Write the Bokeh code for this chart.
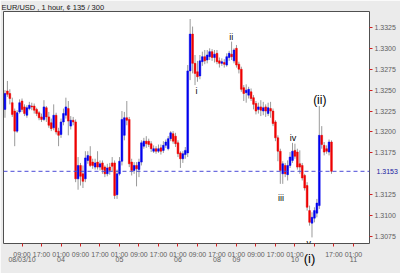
from bokeh.plotting import figure
from bokeh.models import ColumnDataSource, LinearAxis, FixedTicker, Span, Label, Range1d
from bokeh.embed import file_html
from bokeh.resources import INLINE

# EUR/USD hourly candles (135 bars)
opens = [
    1.3227, 1.3249, 1.3246, 1.3235, 1.3225, 1.3201, 1.3224, 1.3237, 1.3230, 1.3220,
    1.3228, 1.3231, 1.3231, 1.3227, 1.3223, 1.3218, 1.3215, 1.3229, 1.3218, 1.3211,
    1.3205, 1.3220, 1.3201, 1.3197, 1.3212, 1.3220, 1.3228, 1.3207, 1.3214, 1.3212,
    1.3144, 1.3160, 1.3150, 1.3144, 1.3166, 1.3171, 1.3164, 1.3158, 1.3164, 1.3158,
    1.3163, 1.3158, 1.3150, 1.3158, 1.3163, 1.3163, 1.3125, 1.3150, 1.3165, 1.3196,
    1.3217, 1.3215, 1.3164, 1.3154, 1.3160, 1.3155, 1.3164, 1.3183, 1.3189, 1.3189,
    1.3186, 1.3177, 1.3180, 1.3177, 1.3181, 1.3178, 1.3184, 1.3180, 1.3192, 1.3198,
    1.3195, 1.3187, 1.3175, 1.3168, 1.3173, 1.3175, 1.3273, 1.3317, 1.3282, 1.3272,
    1.3267, 1.3284, 1.3290, 1.3286, 1.3290, 1.3296, 1.3289, 1.3294, 1.3285, 1.3282,
    1.3283, 1.3280, 1.3289, 1.3293, 1.3285, 1.3300, 1.3281, 1.3275, 1.3253, 1.3247,
    1.3244, 1.3248, 1.3241, 1.3234, 1.3227, 1.3230, 1.3225, 1.3230, 1.3222, 1.3228,
    1.3225, 1.3212, 1.3193, 1.3177, 1.3150, 1.3160, 1.3149, 1.3160, 1.3166, 1.3178,
    1.3176, 1.3162, 1.3160, 1.3148, 1.3136, 1.3106, 1.3091, 1.3097, 1.3103, 1.3112,
    1.3196, 1.3184, 1.3180, 1.3176, 1.3188,
]
highs = [
    1.3250, 1.3261, 1.3251, 1.3241, 1.3228, 1.3226, 1.3239, 1.3240, 1.3233, 1.3232,
    1.3236, 1.3235, 1.3234, 1.3229, 1.3225, 1.3222, 1.3238, 1.3231, 1.3224, 1.3216,
    1.3233, 1.3223, 1.3205, 1.3216, 1.3228, 1.3241, 1.3237, 1.3219, 1.3218, 1.3215,
    1.3170, 1.3163, 1.3160, 1.3177, 1.3177, 1.3183, 1.3168, 1.3168, 1.3177, 1.3166,
    1.3166, 1.3160, 1.3162, 1.3163, 1.3170, 1.3166, 1.3155, 1.3170, 1.3225, 1.3224,
    1.3237, 1.3218, 1.3168, 1.3164, 1.3164, 1.3168, 1.3190, 1.3193, 1.3195, 1.3192,
    1.3189, 1.3184, 1.3183, 1.3185, 1.3185, 1.3189, 1.3191, 1.3195, 1.3201, 1.3201,
    1.3199, 1.3190, 1.3177, 1.3177, 1.3182, 1.3280, 1.3335, 1.3326, 1.3292, 1.3285,
    1.3292, 1.3296, 1.3298, 1.3298, 1.3300, 1.3299, 1.3298, 1.3298, 1.3289, 1.3288,
    1.3287, 1.3294, 1.3297, 1.3308, 1.3300, 1.3304, 1.3284, 1.3278, 1.3256, 1.3257,
    1.3254, 1.3252, 1.3244, 1.3237, 1.3235, 1.3238, 1.3236, 1.3233, 1.3235, 1.3236,
    1.3228, 1.3214, 1.3196, 1.3180, 1.3165, 1.3163, 1.3166, 1.3176, 1.3187, 1.3186,
    1.3180, 1.3178, 1.3163, 1.3150, 1.3140, 1.3112, 1.3104, 1.3110, 1.3120, 1.3231,
    1.3207, 1.3188, 1.3184, 1.3191, 1.3190,
]
lows = [
    1.3217, 1.3242, 1.3233, 1.3218, 1.3183, 1.3199, 1.3222, 1.3224, 1.3219, 1.3217,
    1.3226, 1.3226, 1.3222, 1.3219, 1.3214, 1.3212, 1.3213, 1.3212, 1.3205, 1.3201,
    1.3202, 1.3197, 1.3183, 1.3193, 1.3208, 1.3216, 1.3196, 1.3203, 1.3208, 1.3140,
    1.3131, 1.3136, 1.3133, 1.3140, 1.3162, 1.3158, 1.3156, 1.3155, 1.3155, 1.3154,
    1.3150, 1.3146, 1.3147, 1.3149, 1.3152, 1.3120, 1.3120, 1.3148, 1.3160, 1.3190,
    1.3208, 1.3158, 1.3148, 1.3150, 1.3135, 1.3146, 1.3160, 1.3180, 1.3181, 1.3182,
    1.3176, 1.3175, 1.3174, 1.3175, 1.3173, 1.3175, 1.3181, 1.3178, 1.3189, 1.3186,
    1.3182, 1.3170, 1.3157, 1.3163, 1.3168, 1.3170, 1.3262, 1.3270, 1.3256, 1.3260,
    1.3263, 1.3279, 1.3281, 1.3282, 1.3286, 1.3285, 1.3283, 1.3281, 1.3277, 1.3279,
    1.3277, 1.3278, 1.3285, 1.3286, 1.3282, 1.3277, 1.3270, 1.3248, 1.3237, 1.3235,
    1.3240, 1.3237, 1.3227, 1.3221, 1.3222, 1.3219, 1.3220, 1.3218, 1.3219, 1.3217,
    1.3207, 1.3189, 1.3165, 1.3138, 1.3138, 1.3146, 1.3142, 1.3157, 1.3163, 1.3168,
    1.3155, 1.3150, 1.3142, 1.3130, 1.3106, 1.3088, 1.3074, 1.3092, 1.3098, 1.3108,
    1.3180, 1.3172, 1.3174, 1.3172, 1.3150,
]
closes = [
    1.3246, 1.3245, 1.3240, 1.3221, 1.3201, 1.3223, 1.3235, 1.3227, 1.3222, 1.3229,
    1.3232, 1.3230, 1.3226, 1.3222, 1.3217, 1.3215, 1.3230, 1.3218, 1.3208, 1.3204,
    1.3220, 1.3200, 1.3196, 1.3212, 1.3222, 1.3230, 1.3213, 1.3214, 1.3212, 1.3144,
    1.3160, 1.3147, 1.3141, 1.3169, 1.3172, 1.3160, 1.3160, 1.3163, 1.3158, 1.3162,
    1.3155, 1.3150, 1.3157, 1.3154, 1.3159, 1.3124, 1.3150, 1.3165, 1.3215, 1.3217,
    1.3214, 1.3162, 1.3154, 1.3160, 1.3156, 1.3164, 1.3187, 1.3189, 1.3186, 1.3185,
    1.3180, 1.3180, 1.3177, 1.3180, 1.3177, 1.3184, 1.3188, 1.3192, 1.3199, 1.3189,
    1.3186, 1.3174, 1.3168, 1.3174, 1.3178, 1.3273, 1.3317, 1.3282, 1.3270, 1.3266,
    1.3285, 1.3290, 1.3285, 1.3292, 1.3296, 1.3289, 1.3293, 1.3284, 1.3282, 1.3284,
    1.3281, 1.3290, 1.3294, 1.3290, 1.3298, 1.3280, 1.3275, 1.3251, 1.3246, 1.3250,
    1.3251, 1.3240, 1.3233, 1.3225, 1.3230, 1.3226, 1.3229, 1.3225, 1.3229, 1.3225,
    1.3210, 1.3193, 1.3177, 1.3154, 1.3162, 1.3150, 1.3160, 1.3170, 1.3177, 1.3171,
    1.3158, 1.3158, 1.3145, 1.3133, 1.3110, 1.3092, 1.3098, 1.3106, 1.3115, 1.3196,
    1.3185, 1.3176, 1.3177, 1.3188, 1.3153,
]

# price scale ticks on the right; the last price is written at its own level
price_ticks = [1.3075, 1.3100, 1.3125, 1.3175, 1.3200, 1.3225, 1.3250, 1.3275, 1.3300, 1.3325]
last_price = 1.3153

# time scale: a tick every 8 bars, with the date under the first bar of a day
time_ticks = [7, 15, 23, 31, 39, 47, 55, 63, 71, 79, 87, 95, 103, 111, 119, 127, 135, 143]
time_labels = ["09:00", "17:00", "01:00"] * 6
date_ticks = [7, 23, 47, 71, 87, 95, 119, 143]
date_labels = ["08/03/10", "04", "05", "06", "08", "09", "10", "11"]

# Elliott wave annotations inside the chart: (label, bar, price, font size)
waves = [
    ("i", 78.6, 1.3249, "9px"),
    ("ii", 92.9, 1.3314, "9px"),
    ("iii", 113.3, 1.3121, "9px"),
    ("iv", 118.2, 1.3193, "9px"),
    ("v", 124.7, 1.30672, "9px"),
    ("(ii)", 129.2, 1.3238, "12px"),
]
# wave (i) is written under the time scale, below the low bar
wave_one_bar = 125
wave_one_text = "(i)"

FONT = "Liberation Sans"
TICK_FS = "7px"

bars = list(range(len(closes)))
up = [c >= o for o, c in zip(opens, closes)]
src = ColumnDataSource(dict(
    x=bars, o=opens, h=highs, l=lows, c=closes,
    top=[max(o, c) for o, c in zip(opens, closes)],
    bottom=[min(o, c) for o, c in zip(opens, closes)],
    color=["#0000ee" if u else "#ee0000" for u in up],
))

p = figure(width=400, height=273, output_backend="svg", toolbar_location=None,
           x_axis_location=None, y_axis_location=None,
           x_range=Range1d(-0.6, 149.6), y_range=Range1d(1.30667, 1.33440),
           min_border_left=3, min_border_right=29, min_border_top=10, min_border_bottom=30)
p.background_fill_color = "white"
p.border_fill_color = "#ebebeb"
p.outline_line_color = "#505050"
p.grid.visible = False

p.title.text = "EUR/USD , 1 hour, ¢ 135 / 300"
p.title.align = "left"
p.title.standoff = 0
p.title.offset = -2
p.title.text_font = FONT
p.title.text_font_size = "7.5px"
p.title.text_font_style = "normal"
p.title.text_color = "#202020"

p.segment(x0="x", y0="l", x1="x", y1="h", source=src, line_color="#9a9a9a", line_width=1)
p.vbar(x="x", top="top", bottom="bottom", width=0.72, source=src,
       fill_color="color", line_color="color", line_width=0.5)

p.add_layout(Span(location=last_price, dimension="width", line_color="#4a4ad8",
                  line_dash="4 3", line_width=1))


def quiet_axis(axis):
    axis.axis_line_color = None
    axis.minor_tick_line_color = None
    axis.major_tick_in = 0


# right price axis
ya = LinearAxis(ticker=FixedTicker(ticks=price_ticks),
                major_label_overrides={t: f"{t:.4f}" for t in price_ticks})
quiet_axis(ya)
ya.major_tick_line_color = "#d02020"
ya.major_tick_out = 3
ya.major_label_standoff = 2
ya.major_label_text_font = FONT
ya.major_label_text_font_size = TICK_FS
ya.major_label_text_color = "#606060"
p.add_layout(ya, "right")

# last price, pulled back next to the price scale
pa = LinearAxis(ticker=FixedTicker(ticks=[last_price]),
                major_label_overrides={last_price: f"{last_price:.4f}"})
quiet_axis(pa)
pa.major_tick_line_color = None
pa.major_tick_out = 0
pa.major_label_standoff = -22
pa.major_label_text_font = FONT
pa.major_label_text_font_size = TICK_FS
pa.major_label_text_color = "#2020a0"
p.add_layout(pa, "right")

# red frame round the last price: two short vertical rules, top and bottom as ticks
box_lo, box_hi = last_price - 0.00065, last_price + 0.00068
box_left = LinearAxis(ticker=FixedTicker(ticks=[box_lo, box_hi]),
                      major_label_overrides={box_lo: "", box_hi: ""},
                      fixed_location=150.3, bounds=(box_lo, box_hi))
box_left.axis_line_color = "#d02020"
box_left.major_tick_line_color = "#d02020"
box_left.major_tick_in = 0
box_left.major_tick_out = 23
box_left.minor_tick_line_color = None
p.add_layout(box_left, "right")

box_right = LinearAxis(ticker=FixedTicker(ticks=[]), fixed_location=159.7,
                       bounds=(box_lo, box_hi))
box_right.axis_line_color = "#d02020"
box_right.major_tick_line_color = None
box_right.minor_tick_line_color = None
p.add_layout(box_right, "right")

# time-of-day axis with dates on a second line
labels = {}
for t, lab in zip(time_ticks, time_labels):
    labels[t] = lab
for t, d in zip(date_ticks, date_labels):
    labels[t] = labels[t] + "\n" + d
labels[127] = ""
xa = LinearAxis(ticker=FixedTicker(ticks=time_ticks), major_label_overrides=labels)
quiet_axis(xa)
xa.major_tick_line_color = "#d02020"
xa.major_tick_out = 3
xa.major_label_standoff = 4
xa.major_label_text_font = FONT
xa.major_label_text_font_size = TICK_FS
xa.major_label_text_color = "#606060"
xa.major_label_text_line_height = 0.85
p.add_layout(xa, "below")

# wave (i), pulled up over the time scale
ia = LinearAxis(ticker=FixedTicker(ticks=[wave_one_bar]),
                major_label_overrides={wave_one_bar: wave_one_text})
quiet_axis(ia)
ia.major_tick_line_color = None
ia.major_tick_out = 0
ia.major_label_standoff = -16
ia.major_label_text_font = FONT
ia.major_label_text_font_size = "13px"
ia.major_label_text_color = "black"
p.add_layout(ia, "below")

for txt, bx, py, fs in waves:
    p.add_layout(Label(x=bx, y=py, text=txt, text_align="center", text_baseline="alphabetic",
                       text_font=FONT, text_font_size=fs, text_color="black"))

open("out.html", "w").write(file_html(p, INLINE))
